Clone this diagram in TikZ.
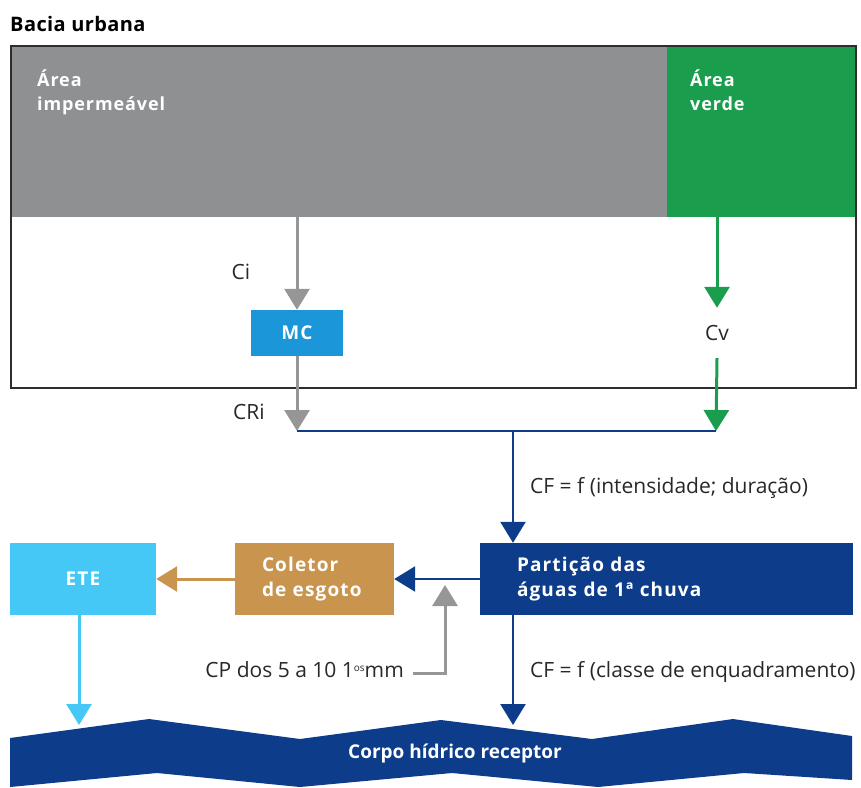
\documentclass[tikz,border=0pt]{standalone}
\usepackage{fontspec}
\setmainfont{Open Sans}
\usetikzlibrary{arrows.meta, positioning}

\definecolor{cinza}{RGB}{142,144,146}
\definecolor{cinzaseta}{RGB}{150,150,150}
\definecolor{verdeurb}{RGB}{26,158,77}
\definecolor{azulmc}{RGB}{27,150,216}
\definecolor{azulclaro}{RGB}{69,200,245}
\definecolor{ouro}{RGB}{200,148,78}
\definecolor{azulesc}{RGB}{12,60,138}
\definecolor{contorno}{RGB}{45,45,45}
\definecolor{textocinza}{RGB}{40,40,40}

\newcommand{\fonterot}{\fontsize{19}{25}\selectfont\bfseries\addfontfeature{LetterSpace=6}}
\newcommand{\fontearea}{\fontsize{18}{24}\selectfont\bfseries\addfontfeature{LetterSpace=5}}
\newcommand{\fontetxt}{\fontsize{21}{25}\selectfont}

\tikzset{
  caixa/.style={inner sep=0pt, text=white, font=\fonterot},
  area/.style={inner sep=0pt, anchor=north west},
  rotarea/.style={text=white, font=\fontearea, align=left, inner sep=0pt},
  rotulo/.style={text=textocinza, font=\fontetxt, inner sep=0pt},
  setacinza/.style={draw=cinzaseta, line width=3pt, -{Triangle[width=25pt,length=21pt]}},
  setaverde/.style={draw=verdeurb, line width=3pt, -{Triangle[width=25pt,length=21pt]}},
  setaclara/.style={draw=azulclaro, line width=3pt, -{Triangle[width=25pt,length=21pt]}},
  setaouro/.style={draw=ouro, line width=3pt, -{Triangle[width=25pt,length=21pt]}},
  setaazul/.style={draw=azulesc, line width=2.5pt, -{Triangle[width=25pt,length=21pt]}},
  linhaazul/.style={draw=azulesc, line width=2.5pt}
}

\begin{document}
\begin{tikzpicture}[x=1pt, y=-1pt]
    \useasboundingbox (0,0) rectangle (861,787);

    % Nodes
    \node (titulo) [anchor=base west, inner sep=0pt,
        font=\fontsize{20}{24}\selectfont\bfseries\addfontfeature{LetterSpace=2}] at (10,31) {Bacia urbana};

    \node (imperm) [area, fill=cinza, minimum width=657pt, minimum height=172pt] at (10,45) {};
    \node (verde) [area, fill=verdeurb, minimum width=188pt, minimum height=172pt] at (667,45) {};
    \node (bacia) [area, draw=contorno, line width=2pt, minimum width=845pt, minimum height=342pt] at (10,45) {};

    % base = last line
    \node (limperm) [rotarea, anchor=base west] at (37,110) {Área\\impermeável};
    \node (lverde) [rotarea, anchor=base west] at (690,110) {Área\\verde};

    \node (mc) [caixa, fill=azulmc, minimum width=92pt, minimum height=46pt] at (297,333) {MC};
    \node (cv) [rotulo, text height=14pt, text depth=0pt, inner ysep=18pt] at (717,333) {Cv};
    \node (ci) [rotulo] at (241,272) {Ci};
    \node (cri) [rotulo] at (249,412) {CRi};

    \node (part) [caixa, fill=azulesc, minimum width=373pt, minimum height=72pt,
        text width=299pt, inner xsep=37pt, align=left] at (666.5,579) {Partição das\\águas de 1ª chuva};
    \node (col) [caixa, fill=ouro, minimum width=159pt, minimum height=72pt,
        text width=105pt, inner xsep=27pt, align=left] at (314.5,579) {Coletor\\de esgoto};
    \node (ete) [caixa, fill=azulclaro, minimum width=146pt, minimum height=72pt] at (83,579) {ETE};

    \node (cfint) [rotulo, anchor=base west] at (530,493) {CF = f (intensidade; duração)};
    \node (cfclasse) [rotulo, anchor=base west] at (530,677) {CF = f (classe de enquadramento)};
    \node (cp) [rotulo, anchor=base east] at (404,677)
        {CP dos 5 a 10 1\raisebox{6pt}{\fontsize{10}{10}\selectfont os}mm};

    % River
    \fill[azulesc] (10,738) -- (149,719) -- (300,739) -- (441,720) -- (592,739) -- (733,719)
        -- (852,736) -- (852,780) -- (744,773) -- (598,787) -- (452,773) -- (300,787)
        -- (157,773) -- (10,787) -- cycle;
    \node (rio) [caixa, font=\fontsize{19}{23}\selectfont\bfseries] at (455,753) {Corpo hídrico receptor};

    % Junctions
    \coordinate (jesq) at (297,431);
    \coordinate (jdir) at (716,431);
    \coordinate (jmeio) at (513,431);
    \coordinate (cpseta) at (445,585);
    \coordinate (rioete) at (79,725);
    \coordinate (riopart) at (513,725);

    % Arrows
    \draw[setacinza] (mc |- imperm.south) -- (mc.north);
    \draw[setacinza] (mc.south) -- (jesq);
    \draw[setaverde] (cv |- verde.south) -- (cv.north);
    \draw[setaverde] (cv.south) -- (jdir);
    \draw[linhaazul] (jesq) -- (jdir);
    \draw[setaazul] (jmeio) -- (jmeio |- part.north);
    \draw[setaazul] (part.west) -- (col.east);
    \draw[setaouro] (col.west) -- (ete.east);
    \draw[setacinza] ([xshift=9pt, yshift=4pt]cp.base east) -| (cpseta);
    \draw[setaazul] (riopart |- part.south) -- (riopart);
    \draw[setaclara] (rioete |- ete.south) -- (rioete);

\end{tikzpicture}
\end{document}
